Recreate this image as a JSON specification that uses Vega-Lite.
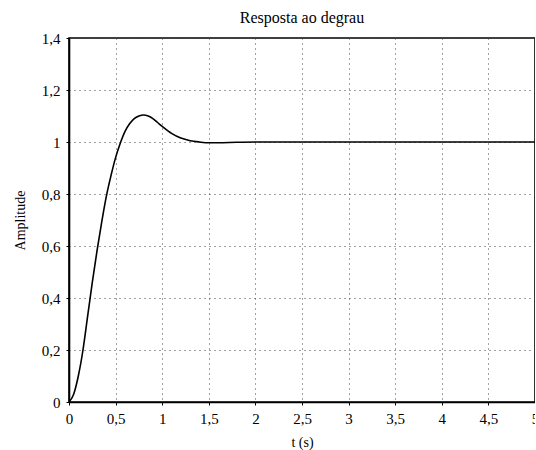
{
  "$schema": "https://vega.github.io/schema/vega-lite/v6.json",
  "autosize": {"type": "none"},
  "padding": {"left": 69, "top": 38, "right": 0, "bottom": 48},
  "width": 466,
  "height": 364,
  "background": "white",
  "title": {"text": "Resposta ao degrau", "font": "Liberation Serif", "fontSize": 16, "fontWeight": "normal", "color": "black", "offset": 5},
  "data": {"values": [
    {"t": 0, "y": 0},
    {"t": 0.05, "y": 0.03},
    {"t": 0.1, "y": 0.1},
    {"t": 0.15, "y": 0.2},
    {"t": 0.2, "y": 0.33},
    {"t": 0.25, "y": 0.46},
    {"t": 0.3, "y": 0.58},
    {"t": 0.35, "y": 0.69},
    {"t": 0.4, "y": 0.79},
    {"t": 0.45, "y": 0.87},
    {"t": 0.5, "y": 0.94},
    {"t": 0.55, "y": 0.995},
    {"t": 0.6, "y": 1.04},
    {"t": 0.65, "y": 1.07},
    {"t": 0.7, "y": 1.09},
    {"t": 0.75, "y": 1.1},
    {"t": 0.8, "y": 1.104},
    {"t": 0.85, "y": 1.1},
    {"t": 0.9, "y": 1.09},
    {"t": 0.95, "y": 1.075},
    {"t": 1.0, "y": 1.06},
    {"t": 1.1, "y": 1.033},
    {"t": 1.2, "y": 1.015},
    {"t": 1.3, "y": 1.005},
    {"t": 1.4, "y": 1.0},
    {"t": 1.5, "y": 0.997},
    {"t": 1.6, "y": 0.997},
    {"t": 1.8, "y": 0.999},
    {"t": 2.0, "y": 1.0},
    {"t": 3, "y": 1.0},
    {"t": 4, "y": 1.0},
    {"t": 5, "y": 1.0}
  ]},
  "mark": {"type": "line", "color": "black", "strokeWidth": 1.6, "interpolate": "monotone", "clip": true},
  "encoding": {
    "x": {
      "field": "t", "type": "quantitative",
      "scale": {"domain": [0, 5], "nice": false, "zero": false},
      "axis": {
        "title": "t (s)",
        "values": [0, 0.5, 1, 1.5, 2, 2.5, 3, 3.5, 4, 4.5, 5],
        "labelExpr": "replace(format(datum.value, '~g'), '.', ',')",
        "titlePadding": 9
      }
    },
    "y": {
      "field": "y", "type": "quantitative",
      "scale": {"domain": [0, 1.4], "nice": false},
      "axis": {
        "title": "Amplitude",
        "values": [0, 0.2, 0.4, 0.6, 0.8, 1, 1.2, 1.4],
        "labelExpr": "replace(format(datum.value, '~g'), '.', ',')",
        "titlePadding": 14
      }
    }
  },
  "config": {
    "font": "Liberation Serif",
    "view": {"stroke": "black", "strokeWidth": 1.6},
    "axis": {
      "labelFont": "Liberation Serif",
      "labelFontSize": 15,
      "labelColor": "black",
      "titleFont": "Liberation Serif",
      "titleFontSize": 14,
      "titleFontWeight": "normal",
      "titleColor": "black",
      "domainColor": "black",
      "domainWidth": 1.6,
      "ticks": true,
      "tickColor": "black",
      "tickSize": 3,
      "labelPadding": 6,
      "grid": true,
      "gridColor": "#444",
      "gridDash": [1, 4],
      "gridWidth": 1,
      "labelFlush": false,
      "labelOverlap": false
    }
  }
}
